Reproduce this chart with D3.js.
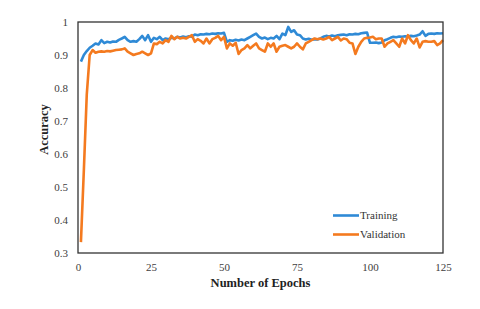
<!DOCTYPE html>
<html><head><meta charset="utf-8">
<script src="https://cdn.jsdelivr.net/npm/d3@7/dist/d3.min.js"></script>
<style>body{margin:0;background:#fff}</style>
</head><body><svg id="c" width="480" height="309"></svg>
<script>
const training = [0.880,0.900,0.912,0.922,0.928,0.935,0.932,0.945,0.936,0.940,
0.938,0.941,0.940,0.946,0.950,0.955,0.945,0.940,0.942,0.940,
0.948,0.958,0.945,0.960,0.940,0.952,0.948,0.955,0.945,0.950,
0.948,0.952,0.950,0.955,0.953,0.956,0.954,0.957,0.955,0.962,
0.960,0.963,0.962,0.964,0.963,0.965,0.964,0.966,0.965,0.967,
0.940,0.945,0.943,0.946,0.944,0.947,0.945,0.950,0.955,0.960,
0.965,0.955,0.950,0.953,0.948,0.952,0.950,0.958,0.948,0.965,
0.960,0.985,0.970,0.975,0.962,0.960,0.950,0.947,0.949,0.946,
0.948,0.947,0.950,0.955,0.958,0.956,0.959,0.957,0.960,0.961,
0.962,0.960,0.963,0.962,0.964,0.963,0.966,0.967,0.968,0.937,
0.937,0.938,0.936,0.938,0.945,0.948,0.952,0.955,0.954,0.956,
0.955,0.957,0.956,0.958,0.957,0.959,0.962,0.972,0.958,0.964,
0.965,0.964,0.966,0.965,0.966];
const validation = [0.333,0.55,0.78,0.900,0.915,0.907,0.910,0.911,0.910,0.912,
0.911,0.913,0.915,0.916,0.917,0.920,0.910,0.905,0.900,0.903,
0.905,0.910,0.905,0.900,0.905,0.935,0.933,0.940,0.935,0.945,
0.940,0.958,0.948,0.955,0.950,0.952,0.950,0.955,0.960,0.940,
0.948,0.943,0.935,0.950,0.935,0.948,0.952,0.958,0.945,0.955,
0.920,0.935,0.928,0.937,0.903,0.915,0.920,0.930,0.920,0.928,
0.935,0.920,0.915,0.910,0.935,0.925,0.935,0.910,0.925,0.928,
0.930,0.925,0.920,0.925,0.935,0.925,0.917,0.935,0.940,0.945,
0.950,0.948,0.950,0.947,0.950,0.955,0.945,0.950,0.955,0.944,
0.950,0.948,0.937,0.935,0.903,0.925,0.940,0.950,0.952,0.953,
0.955,0.948,0.950,0.950,0.925,0.935,0.940,0.945,0.935,0.925,
0.950,0.935,0.960,0.945,0.935,0.950,0.923,0.940,0.942,0.940,
0.940,0.942,0.930,0.935,0.945];
const xTicks = [0,25,50,75,100,125];
const yTicks = [0.3,0.4,0.5,0.6,0.7,0.8,0.9,1];
const seriesNames = ["Training","Validation"];
const colors = ["#2f8ad6","#f47a1f"];

const svg = d3.select("#c");
const L=78, R=443, T=22, B=253;
const x = d3.scaleLinear().domain([0,125]).range([L,R]);
const y = d3.scaleLinear().domain([0.3,1]).range([B,T]);
const font = "'Liberation Serif','Times New Roman',serif";

// y axis labels
const ya = svg.append("g").attr("transform",`translate(${L},0)`)
  .call(d3.axisLeft(y).tickValues(yTicks).tickSize(0).tickPadding(10).tickFormat(d=>d3.format("")(+d.toFixed(1))));
ya.select(".domain").remove();
ya.selectAll("text").attr("font-family",font).attr("font-size",11).attr("fill","#404040");

const xa = svg.append("g").attr("transform",`translate(0,${B})`)
  .call(d3.axisBottom(x).tickValues(xTicks).tickSize(0).tickPadding(10));
xa.select(".domain").remove();
xa.selectAll("text").attr("font-family",font).attr("font-size",11).attr("fill","#404040");

const line = d3.line().x((d,i)=>x(i+1)).y(d=>y(d));
[training,validation].forEach((s,k)=>{
  svg.append("path").datum(s).attr("d",line).attr("fill","none")
    .attr("stroke",colors[k]).attr("stroke-width",2.6).attr("stroke-linejoin","round");
});

svg.append("rect").attr("x",L).attr("y",T).attr("width",R-L).attr("height",B-T)
  .attr("fill","none").attr("stroke","#333").attr("stroke-width",1.3);

// legend
seriesNames.forEach((n,k)=>{
  const ly = 215.5 + k*19;
  svg.append("line").attr("x1",333).attr("x2",359).attr("y1",ly).attr("y2",ly)
    .attr("stroke",colors[k]).attr("stroke-width",2.6);
  svg.append("text").attr("x",360).attr("y",ly).attr("dy","0.35em")
    .attr("font-family",font).attr("font-size",11).attr("fill","#333").text(n);
});

svg.append("text").attr("x",(L+R)/2).attr("y",287).attr("text-anchor","middle")
  .attr("font-family",font).attr("font-size",12.5).attr("font-weight","bold").attr("fill","#222")
  .text("Number of Epochs");
svg.append("text").attr("transform",`translate(48,${(T+B)/2 - 8}) rotate(-90)`)
  .attr("text-anchor","middle").attr("font-family",font).attr("font-size",12.5)
  .attr("font-weight","bold").attr("fill","#222").text("Accuracy");
</script></body></html>
